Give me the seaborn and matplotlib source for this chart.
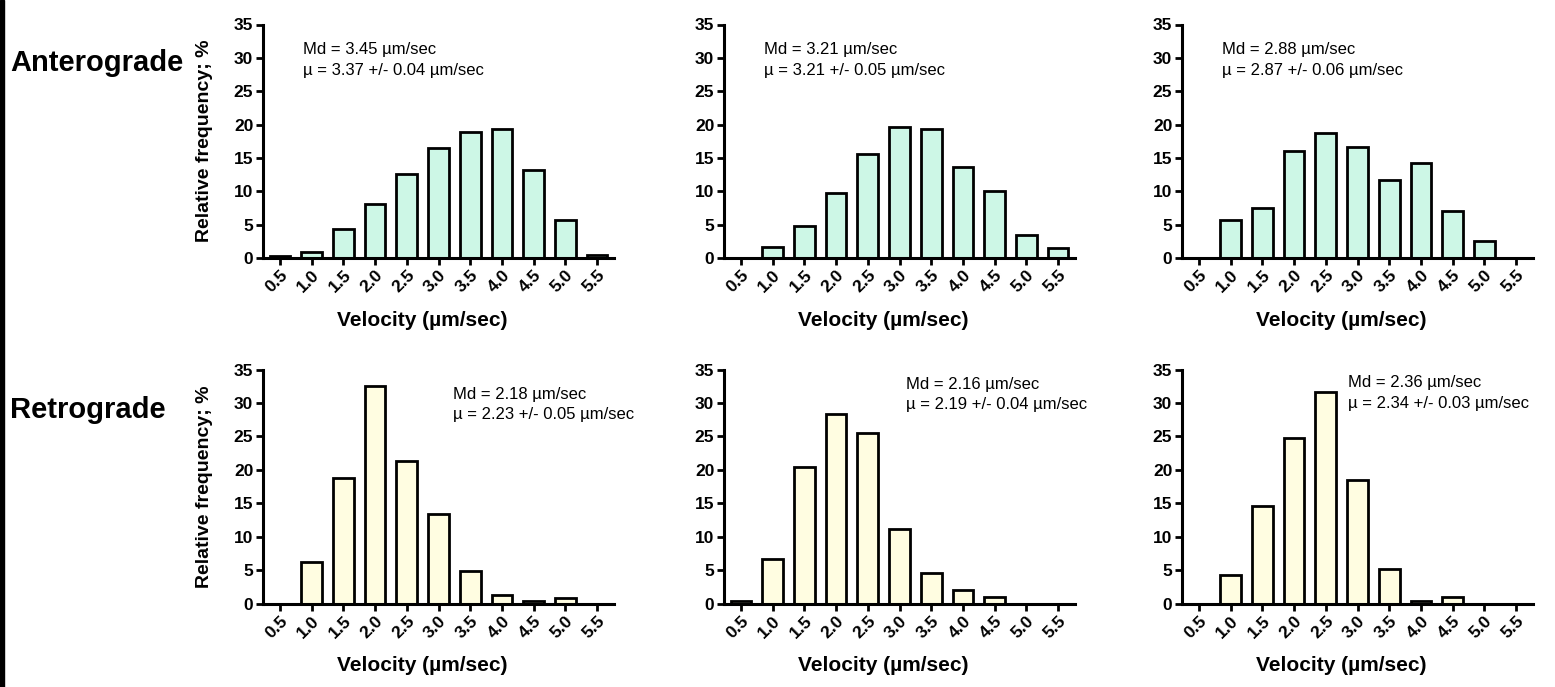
import matplotlib
matplotlib.use("Agg")
import matplotlib.pyplot as plt
import pandas as pd
import seaborn as sns
from matplotlib.patches import Rectangle

sns.set_style("ticks")
plt.rcParams["font.family"] = ["Liberation Sans", "DejaVu Sans"]
plt.rcParams.update({"text.color": "black", "axes.labelcolor": "black",
                     "xtick.color": "black", "ytick.color": "black",
                     "axes.edgecolor": "black"})

velocity = ["0.5", "1.0", "1.5", "2.0", "2.5", "3.0", "3.5", "4.0", "4.5", "5.0", "5.5"]

# relative frequency (%) per velocity bin
antero_1 = [0.3, 0.95, 4.3, 8.1, 12.6, 16.45, 18.85, 19.3, 13.25, 5.7, 0.45]
antero_2 = [0.0, 1.7, 4.75, 9.8, 15.6, 19.65, 19.4, 13.6, 10.05, 3.45, 1.45]
antero_3 = [0.0, 5.7, 7.45, 16.0, 18.8, 16.7, 11.7, 14.2, 7.1, 2.55, 0.0]
retro_1 = [0.0, 6.25, 18.75, 32.6, 21.35, 13.4, 4.9, 1.3, 0.4, 0.85, 0.0]
retro_2 = [0.35, 6.7, 20.4, 28.4, 25.5, 11.2, 4.5, 2.0, 1.0, 0.0, 0.0]
retro_3 = [0.0, 4.3, 14.65, 24.7, 31.6, 18.4, 5.15, 0.35, 0.9, 0.0, 0.0]

# median, mean, sem
antero_stats = [("3.45", "3.37", "0.04"), ("3.21", "3.21", "0.05"), ("2.88", "2.87", "0.06")]
retro_stats = [("2.18", "2.23", "0.05"), ("2.16", "2.19", "0.04"), ("2.36", "2.34", "0.03")]

rows = [
    ("Anterograde", [antero_1, antero_2, antero_3], antero_stats, "#cdf7e6",
     [(0.72, 29.7), (0.72, 29.7), (0.72, 29.7)]),
    ("Retrograde", [retro_1, retro_2, retro_3], retro_stats, "#fffde1",
     [(5.45, 29.8), (5.19, 31.3), (4.69, 31.5)]),
]

W, H = 1555, 687
fig = plt.figure(figsize=(W / 100, H / 100), dpi=100)
fig.patches.append(Rectangle((0, 0), 4 / W, 1, transform=fig.transFigure,
                             color="black", zorder=0))

lefts = [263, 724, 1182]
zero_y = [258, 603.5]
top_y = [24.5, 369.5]
label_y = [63, 410]

for r, (name, series, stats, fill, text_pos) in enumerate(rows):
    fig.text(10 / W, 1 - label_y[r] / H, name, fontsize=21, fontweight="bold",
             ha="left", va="center")
    for c in range(3):
        ax = fig.add_axes([lefts[c] / W, 1 - zero_y[r] / H, 351 / W,
                           (zero_y[r] - top_y[r]) / H])
        df = pd.DataFrame({"velocity": velocity, "freq": series[c]})
        sns.barplot(data=df, x="velocity", y="freq", order=velocity, color=fill,
                    saturation=1, edgecolor="black", linewidth=2, width=0.65, ax=ax)
        ax.set_xlim(-0.53, 10.53)
        ax.set_ylim(0, 35)
        ax.set_yticks(range(0, 36, 5))
        sns.despine(ax=ax)
        for s in ["left", "bottom"]:
            ax.spines[s].set_linewidth(2.2)
        ax.tick_params(width=2, length=5, labelsize=12.5, pad=2)
        for lab in ax.get_xticklabels() + ax.get_yticklabels():
            lab.set_fontweight("bold")
        plt.setp(ax.get_xticklabels(), rotation=45, ha="right", rotation_mode="anchor")
        ax.set_xlabel("Velocity (µm/sec)", fontsize=15, fontweight="bold")
        ax.xaxis.set_label_coords(0.455, -0.225)
        if c == 0:
            ax.set_ylabel("Relative frequency; %", fontsize=14, fontweight="bold")
            ax.yaxis.set_label_coords(-0.142, 0.5)
        else:
            ax.set_ylabel("")
        md, mu, sem = stats[c]
        tx, ty = text_pos[c]
        ax.text(tx, ty, f"Md = {md} µm/sec\nµ = {mu} +/- {sem} µm/sec",
                fontsize=12, ha="left", va="center", linespacing=1.45)

fig.savefig("out.png", dpi=100)
